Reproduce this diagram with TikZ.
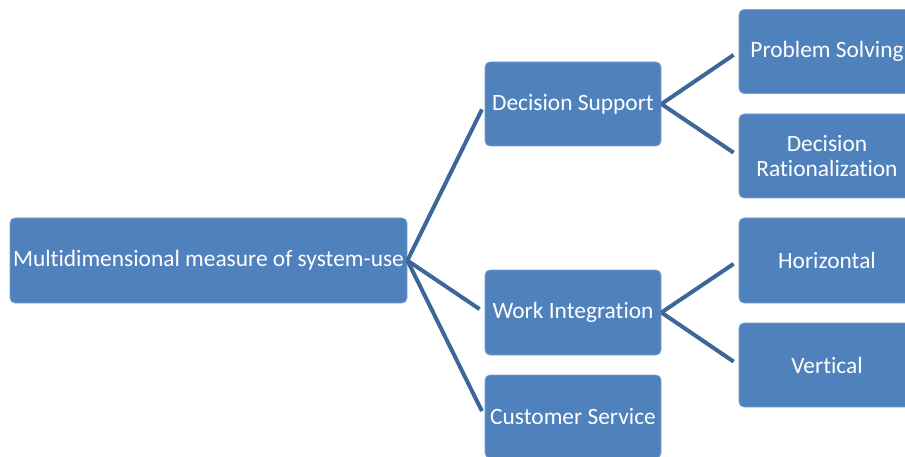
\documentclass[tikz,border=0pt]{standalone}
\usepackage{fontspec}
\setmainfont{Carlito}[Ligatures={NoCommon,NoContextual}]
\definecolor{boxblue}{HTML}{4F81BD}
\definecolor{linkblue}{HTML}{3D6699}

\tikzset{
  box/.style={fill=boxblue, draw=boxblue!75!white, line width=0.8pt,
    rounded corners=5pt, text=white, align=center, inner sep=0pt,
    font=\fontsize{23.4}{25}\selectfont,
    minimum width=176pt, minimum height=84pt},
  link/.style={draw=linkblue, line width=4pt, shorten >=6pt}
}

\begin{document}
\begin{tikzpicture}[x=1pt,y=-1pt]
  \useasboundingbox (0,0) rectangle (905,457);
  \clip (0,0) rectangle (905,457);

  % root
  \node[box, minimum width=397pt, minimum height=85pt] (root) at (208.5,260.5)
    {Multidimensional measure of system-use};

  % second level
  \node[box] (support) at (573,104) {Decision Support};
  \node[box, minimum height=85pt] (work) at (573,312.5) {Work Integration};
  \node[box, minimum height=83pt] (service) at (573,416.5) {Customer Service};

  % third level
  \node[box] (solving) at (827,51.5) {Problem Solving};
  \node[box] (rational) at (827,156) {Decision\\Rationalization};
  \node[box, minimum height=85pt] (horiz) at (827,260.5) {Horizontal};
  \node[box] (vert) at (827,365) {Vertical};

  \foreach \n in {support,work,service}
    \draw[link] (root.east) -- (\n.west);
  \foreach \n in {solving,rational}
    \draw[link] (support.east) -- (\n.west);
  \foreach \n in {horiz,vert}
    \draw[link] (work.east) -- (\n.west);
\end{tikzpicture}
\end{document}
